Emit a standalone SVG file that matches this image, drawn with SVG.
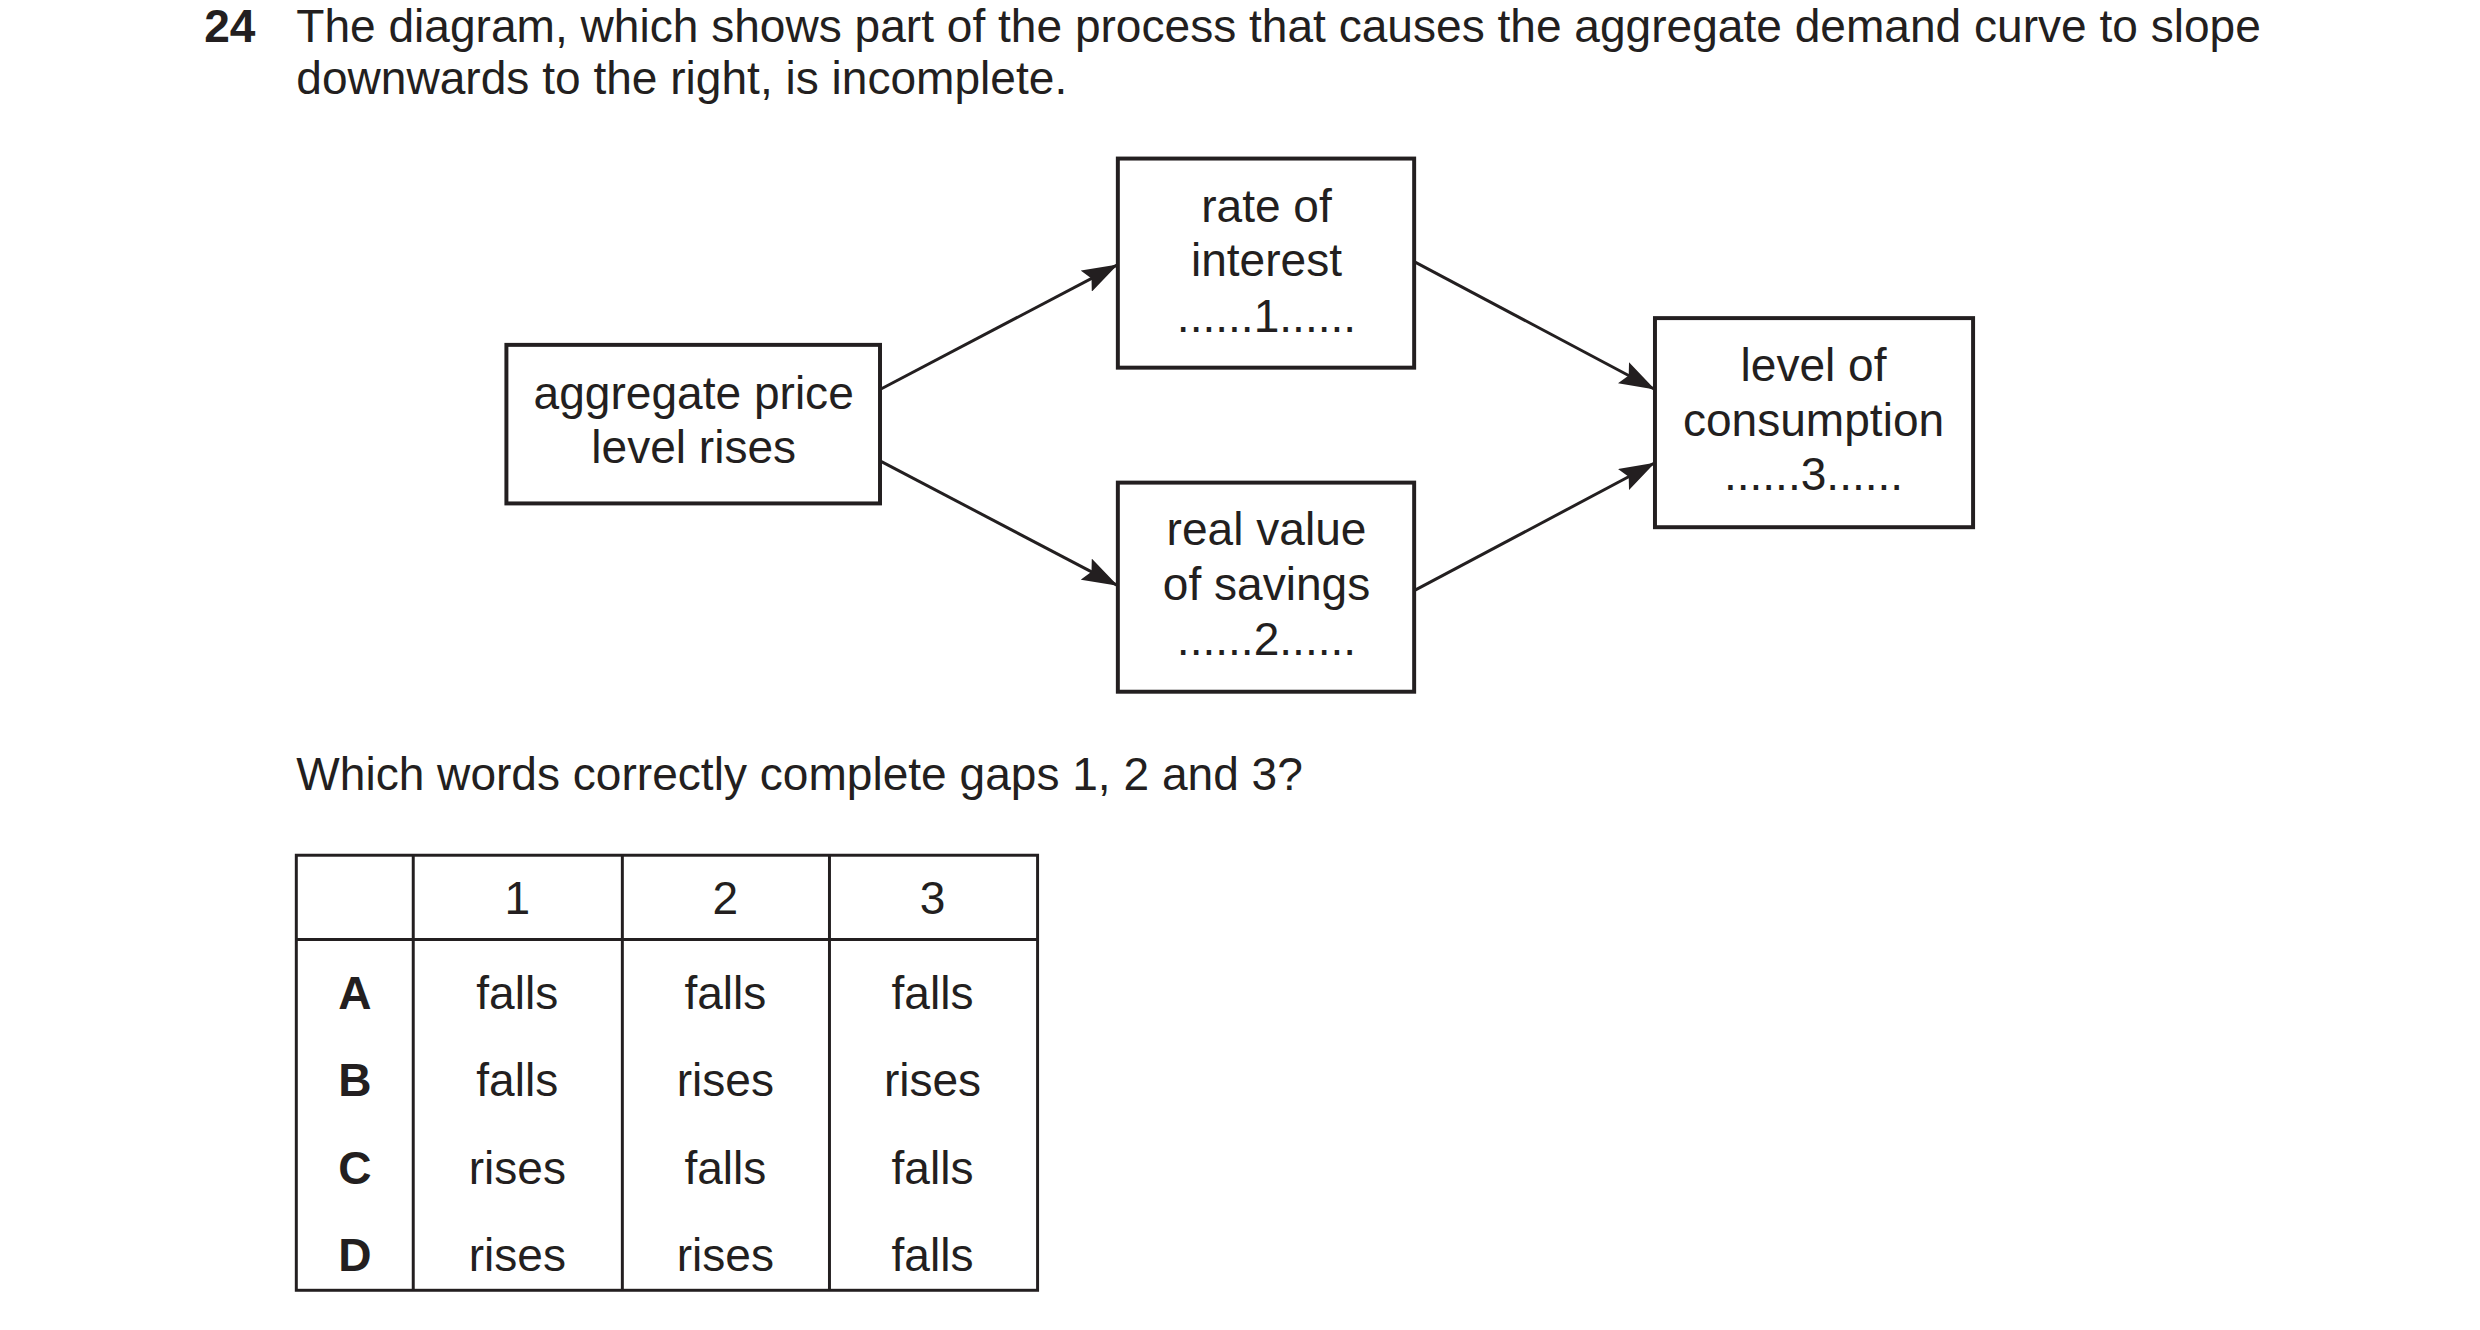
<svg xmlns="http://www.w3.org/2000/svg" width="2480" height="1330" viewBox="0 0 2480 1330">
<style>
text{font-family:"Liberation Sans",Arial,sans-serif;font-size:46.5px;fill:#231f20}
.c{text-anchor:middle}
.b{font-weight:bold}
.box{fill:#fff;stroke:#231f20;stroke-width:4}
.ln{stroke:#231f20;stroke-width:3;fill:none}
</style>
<defs>
<marker id="a" markerWidth="36" markerHeight="24" refX="36" refY="12" orient="auto" markerUnits="userSpaceOnUse"><path d="M0,0 L36,12 L0,24 L6,12 Z" fill="#231f20"/></marker></defs>
<rect width="2480" height="1330" fill="#fff"/>
<g transform="scale(0.991)">
<text x="206" y="42" class="b">24</text>
<text x="299" y="42">The diagram, which shows part of the process that causes the aggregate demand curve to slope</text>
<text x="299" y="95">downwards to the right, is incomplete.</text>
<g id="connectors">
<line class="ln" x1="888" y1="393" x2="1128" y2="267" marker-end="url(#a)"/>
<line class="ln" x1="888" y1="465" x2="1128" y2="591" marker-end="url(#a)"/>
<line class="ln" x1="1427" y1="264" x2="1670" y2="393" marker-end="url(#a)"/>
<line class="ln" x1="1427" y1="596" x2="1670" y2="467" marker-end="url(#a)"/>
</g>
<g id="price"><rect class="box" x="511" y="348" width="377" height="160"/>
<text class="c" x="700" y="413">aggregate price</text><text class="c" x="700" y="467">level rises</text></g>
<g id="interest"><rect class="box" x="1128" y="160" width="299" height="211"/>
<text class="c" x="1278" y="224">rate of</text><text class="c" x="1278" y="279">interest</text><text class="c" x="1278" y="335">......1......</text></g>
<g id="savings"><rect class="box" x="1128" y="487" width="299" height="211"/>
<text class="c" x="1278" y="550">real value</text><text class="c" x="1278" y="605">of savings</text><text class="c" x="1278" y="661">......2......</text></g>
<g id="consumption"><rect class="box" x="1670" y="321" width="321" height="211"/>
<text class="c" x="1830" y="384">level of</text><text class="c" x="1830" y="440">consumption</text><text class="c" x="1830" y="494">......3......</text></g>
<text x="299" y="797">Which words correctly complete gaps 1, 2 and 3?</text>
<g id="table">
<rect x="299" y="863" width="748" height="439" fill="none" stroke="#231f20" stroke-width="3"/>
<line class="ln" x1="417" y1="863" x2="417" y2="1302"/>
<line class="ln" x1="628" y1="863" x2="628" y2="1302"/>
<line class="ln" x1="837" y1="863" x2="837" y2="1302"/>
<line class="ln" x1="299" y1="948" x2="1047" y2="948"/>
<text class="c" x="522" y="922">1</text><text class="c" x="732" y="922">2</text><text class="c" x="941" y="922">3</text>
<text class="c b" x="358" y="1018">A</text><text class="c" x="522" y="1018">falls</text><text class="c" x="732" y="1018">falls</text><text class="c" x="941" y="1018">falls</text>
<text class="c b" x="358" y="1106">B</text><text class="c" x="522" y="1106">falls</text><text class="c" x="732" y="1106">rises</text><text class="c" x="941" y="1106">rises</text>
<text class="c b" x="358" y="1195">C</text><text class="c" x="522" y="1195">rises</text><text class="c" x="732" y="1195">falls</text><text class="c" x="941" y="1195">falls</text>
<text class="c b" x="358" y="1283">D</text><text class="c" x="522" y="1283">rises</text><text class="c" x="732" y="1283">rises</text><text class="c" x="941" y="1283">falls</text>
</g>
</g>
</svg>
